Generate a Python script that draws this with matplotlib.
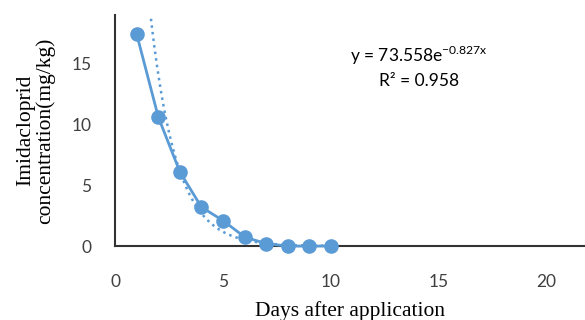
import numpy as np
import matplotlib
matplotlib.use("Agg")
import matplotlib.pyplot as plt

# measured residues (mg/kg) by day after application
days = [1, 2, 3, 4, 5, 6, 7, 8, 9, 10]
conc = [17.4, 10.6, 6.1, 3.2, 2.1, 0.75, 0.2, 0.0, 0.0, 0.0]

# exponential trendline as printed on the chart
fit_a = 73.558
fit_k = 0.827
fit_r2 = 0.958

x_ticks = [0, 5, 10, 15, 20]
y_ticks = [0, 5, 10, 15]

BLUE = "#5B9BD5"

fig = plt.figure(figsize=(5.85, 3.2), dpi=100)
ax = fig.add_axes([0.197, 0.231, 0.803, 0.722])

xt = np.linspace(days[0], days[-1], 200)
ax.plot(xt, fit_a * np.exp(-fit_k * xt), linestyle=":", color=BLUE, lw=1.8, zorder=2)
ax.plot(days, conc, color=BLUE, lw=2, marker="o", markersize=9.5, zorder=3, clip_on=False)

ax.set_xlim(0, 21.8)
ax.set_ylim(0, 19)
ax.set_xticks(x_ticks)
ax.set_yticks(y_ticks)
ax.tick_params(length=0, labelsize=12.5, colors="#404040")
ax.tick_params(axis="x", pad=20)
ax.tick_params(axis="y", pad=17)
for lab in ax.get_xticklabels() + ax.get_yticklabels():
    lab.set_family("Lato")

for side in ("top", "right"):
    ax.spines[side].set_visible(False)
for side in ("left", "bottom"):
    ax.spines[side].set_linewidth(1.5)
    ax.spines[side].set_color("#333333")

ax.set_xlabel("Days after application", family="Liberation Serif", fontsize=15.5, labelpad=8)
ax.set_ylabel("Imidacloprid\nconcentration(mg/kg)", family="Liberation Serif",
              fontsize=15.5, labelpad=12, linespacing=1.0)

ax.text(0.647, 0.827, r"y = %.3fe$^{\mathregular{-%.3fx}}$" % (fit_a, fit_k),
        transform=ax.transAxes, ha="center", va="center", family="Lato", fontsize=12.5)
ax.text(0.647, 0.715, "R² = %.3f" % fit_r2, transform=ax.transAxes,
        ha="center", va="center", family="Lato", fontsize=12.5)

fig.savefig("out.png", dpi=100)
